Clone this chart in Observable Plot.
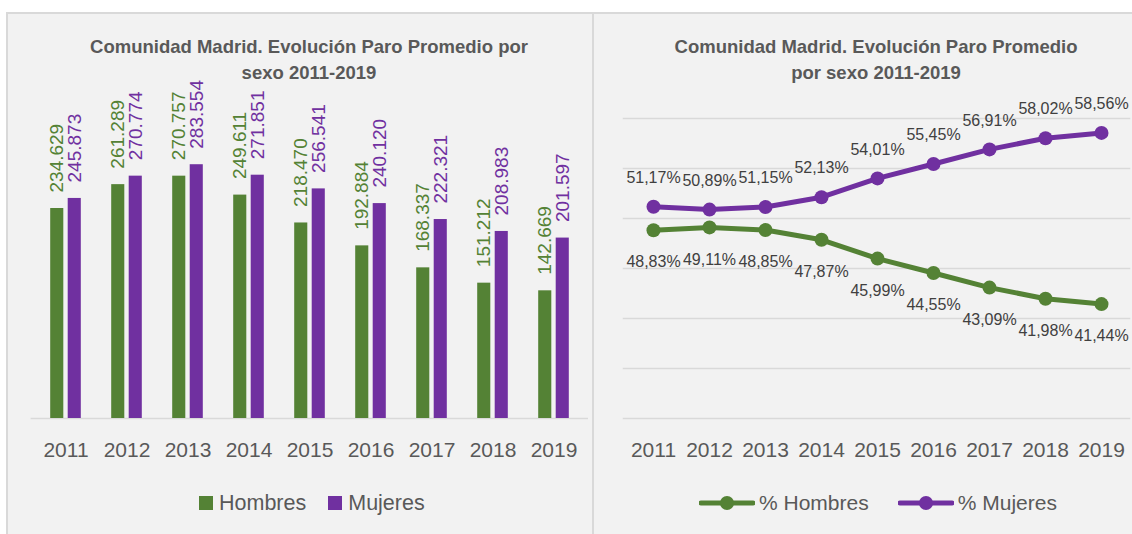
<!DOCTYPE html>
<html>
<head>
<meta charset="utf-8">
<script src="https://cdn.jsdelivr.net/npm/d3@7"></script>
<script src="https://cdn.jsdelivr.net/npm/@observablehq/plot@0.6"></script>
<style>
  html, body { margin: 0; padding: 0; background: #ffffff; width: 1132px; height: 534px; overflow: hidden;
    font-family: "Liberation Sans", Arial, sans-serif; }
  #frame { position: absolute; left: 6px; top: 12px; right: 0; bottom: 0; background: #F2F2F2;
    border-left: 2px solid #D9D9D9; border-top: 2px solid #D9D9D9; }
  #divider { position: absolute; left: 592px; top: 12px; width: 2px; bottom: 0; background: #D9D9D9; }
  .title { position: absolute; top: 34px; text-align: center; font-weight: bold; font-size: 18.5px;
    line-height: 26px; color: #595959; white-space: nowrap; }
  .chart { position: absolute; top: 80px; }
  .legend { position: absolute; top: 490px; height: 26px; display: flex; align-items: center;
    color: #595959; white-space: nowrap; }
  .sw { width: 14px; height: 14px; display: inline-block; }
</style>
</head>
<body>
<div id="frame"></div>
<div id="divider"></div>
<div class="title" style="left:9px;width:600px;">Comunidad Madrid. Evolución Paro Promedio por<br>sexo 2011-2019</div>
<div class="title" style="left:626px;width:500px;">Comunidad Madrid. Evolución Paro Promedio<br>por sexo 2011-2019</div>
<div id="left" class="chart" style="left:0px;"></div>
<div id="right" class="chart" style="left:595px;"></div>
<div class="legend" style="left:199px;font-size:21.5px;">
  <span class="sw" style="background:#548235;margin-right:6px;"></span><span>Hombres</span>
  <span class="sw" style="background:#7030A0;margin-left:22px;margin-right:6px;"></span><span>Mujeres</span>
</div>
<div class="legend" style="left:699px;font-size:21px;">
  <svg width="56" height="16" style="margin-right:4px;"><line x1="2" y1="8" x2="54" y2="8" stroke="#548235" stroke-width="5" stroke-linecap="round"/><circle cx="28" cy="8" r="7" fill="#548235"/></svg><span>% Hombres</span>
  <svg width="56" height="16" style="margin-left:29px;margin-right:4px;"><line x1="2" y1="8" x2="54" y2="8" stroke="#7030A0" stroke-width="5" stroke-linecap="round"/><circle cx="28" cy="8" r="7" fill="#7030A0"/></svg><span>% Mujeres</span>
</div>
<script>
const years = ["2011", "2012", "2013", "2014", "2015", "2016", "2017", "2018", "2019"];
const hombres = [234629, 261289, 270757, 249611, 218470, 192884, 168337, 151212, 142669];
const mujeres = [245873, 270774, 283554, 271851, 256541, 240120, 222321, 208983, 201597];
const pctHombres = [48.83, 49.11, 48.85, 47.87, 45.99, 44.55, 43.09, 41.98, 41.44];
const pctMujeres = [51.17, 50.89, 51.15, 52.13, 54.01, 55.45, 56.91, 58.02, 58.56];
const gridTicks = [30, 35, 40, 45, 50, 55, 60];

const GREEN = "#548235";
const PURPLE = "#7030A0";
const FONT = '"Liberation Sans", Arial, sans-serif';

const fmtN = d3.formatLocale({decimal: ",", thousands: ".", grouping: [3], currency: ["", "€"]}).format(",d");
const fmtP = v => v.toFixed(2).replace(".", ",") + "%";

const H = years.map((year, i) => ({year, value: hombres[i]}));
const M = years.map((year, i) => ({year, value: mujeres[i]}));
const PH = years.map((year, i) => ({year, value: pctHombres[i]}));
const PM = years.map((year, i) => ({year, value: pctMujeres[i]}));

const left = Plot.plot({
  width: 593, height: 400,
  marginLeft: 30.6, marginRight: 5, marginTop: 69.5, marginBottom: 62,
  style: {background: "transparent", fontFamily: FONT, fontSize: "21px", color: "#595959", overflow: "visible"},
  x: {domain: years, padding: 0, tickSize: 0, tickPadding: 23.6, label: null},
  y: {domain: [0, 300000], axis: null},
  marks: [
    Plot.ruleY([0], {stroke: "#D9D9D9", strokeWidth: 1.5}),
    Plot.barY(H, {x: "year", y: "value", fill: GREEN, insetLeft: 15.2, insetRight: 32.7}),
    Plot.barY(M, {x: "year", y: "value", fill: PURPLE, insetLeft: 32.7, insetRight: 15.2}),
    Plot.text(H, {x: "year", y: "value", text: d => fmtN(d.value), rotate: -90, textAnchor: "start",
      dx: -8.75, dy: -16, fill: GREEN, fontSize: 19}),
    Plot.text(M, {x: "year", y: "value", text: d => fmtN(d.value), rotate: -90, textAnchor: "start",
      dx: 8.75, dy: -16, fill: PURPLE, fontSize: 19})
  ]
});
document.getElementById("left").appendChild(left);

const right = Plot.plot({
  width: 537, height: 400,
  marginLeft: 27.8, marginRight: 1.7, marginTop: 38, marginBottom: 62,
  style: {background: "transparent", fontFamily: FONT, fontSize: "21px", color: "#595959", overflow: "visible"},
  x: {type: "point", domain: years, padding: 0.5, tickSize: 0, tickPadding: 23.6, label: null},
  y: {domain: [30, 60], axis: null},
  marks: [
    Plot.ruleY(gridTicks, {stroke: "#D9D9D9", strokeWidth: 1.5}),
    Plot.line(PH, {x: "year", y: "value", stroke: GREEN, strokeWidth: 5}),
    Plot.line(PM, {x: "year", y: "value", stroke: PURPLE, strokeWidth: 5}),
    Plot.dot(PH, {x: "year", y: "value", r: 7, fill: GREEN}),
    Plot.dot(PM, {x: "year", y: "value", r: 7, fill: PURPLE}),
    Plot.text(PM, {x: "year", y: "value", text: d => fmtP(d.value), dy: -29, fill: "#404040", fontSize: 16}),
    Plot.text(PH, {x: "year", y: "value", text: d => fmtP(d.value), dy: 32, fill: "#404040", fontSize: 16})
  ]
});
document.getElementById("right").appendChild(right);
</script>
</body>
</html>
